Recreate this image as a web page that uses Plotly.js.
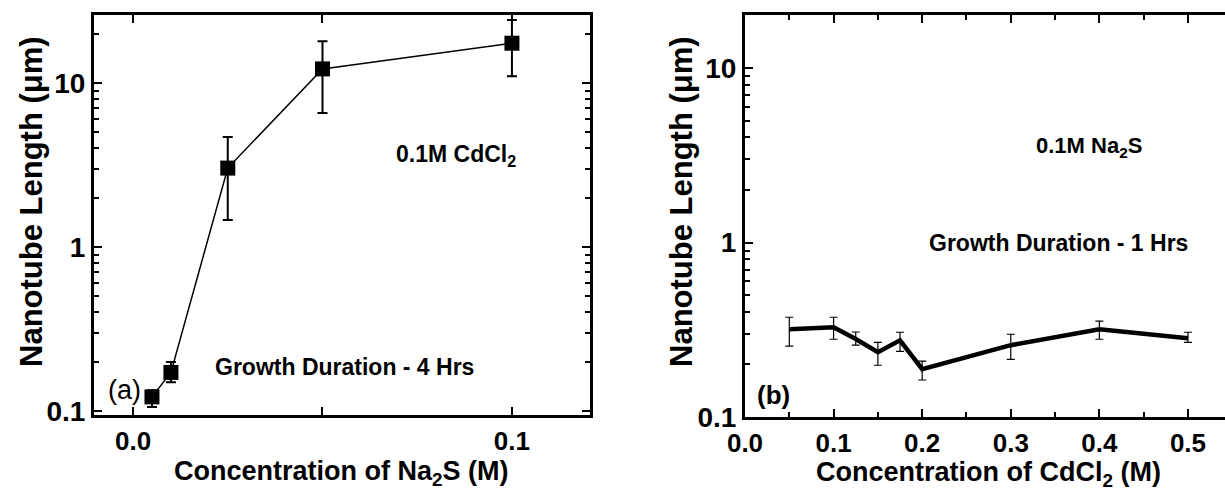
<!DOCTYPE html>
<html>
<head>
<meta charset="utf-8">
<script src="https://cdn.plot.ly/plotly-3.0.1.min.js"></script>
<style>html,body{margin:0;padding:0;background:#fff;}#chart{width:1225px;height:491px;}</style>
</head>
<body>
<div id="chart"></div>
<script>
// Panel (a): Na2S concentration series (0.1M CdCl2, 4 Hrs)
const naX = [0.005, 0.01, 0.025, 0.05, 0.1];
const naY = [0.122, 0.172, 3.03, 12.2, 17.5];
const naErrPlus = [0.012, 0.027, 1.66, 5.8, 6.7];
const naErrMinus = [0.016, 0.022, 1.57, 5.64, 6.5];

// Panel (b): CdCl2 concentration series (0.1M Na2S, 1 Hrs)
const cdX = [0.05, 0.1, 0.125, 0.15, 0.175, 0.2, 0.3, 0.4, 0.5];
const cdY = [0.318, 0.327, 0.28, 0.235, 0.275, 0.188, 0.258, 0.318, 0.283];
const cdErrPlus = [0.055, 0.046, 0.027, 0.033, 0.031, 0.021, 0.04, 0.036, 0.023];
const cdErrMinus = [0.063, 0.048, 0.022, 0.037, 0.037, 0.025, 0.044, 0.039, 0.015];

const leftXTicks = [0, 0.05, 0.1];
const leftXTickText = ['0.0', ' ', '0.1'];
const rightXTicks = [0, 0.1, 0.2, 0.3, 0.4, 0.5];
const rightXTickText = ['0.0', '0.1', '0.2', '0.3', '0.4', '0.5'];
const yTicks = [0.1, 1, 10];
const yTickText = ['0.1', '1', '10'];
const yMinor = [0.2,0.3,0.4,0.5,0.6,0.7,0.8,0.9,2,3,4,5,6,7,8,9,20];

const W = 1225, H = 491;
const px = v => v / W;
const py = v => 1 - v / H;
const FONT = 'Liberation Sans, Arial, sans-serif';

const traces = [
  {
    x: naX, y: naY, xaxis: 'x', yaxis: 'y', type: 'scatter', mode: 'lines+markers',
    line: {color: '#000', width: 1.5},
    marker: {symbol: 'square', size: 15, color: '#000'},
    error_y: {type: 'data', symmetric: false, array: naErrPlus, arrayminus: naErrMinus,
              color: '#000', thickness: 2, width: 5},
    showlegend: false
  },
  {
    x: cdX, y: cdY, xaxis: 'x2', yaxis: 'y2', type: 'scatter', mode: 'lines',
    line: {color: '#000', width: 4.5},
    error_y: {type: 'data', symmetric: false, array: cdErrPlus, arrayminus: cdErrMinus,
              color: '#000', thickness: 1.2, width: 4},
    showlegend: false
  }
];

const axCommon = {
  showgrid: false, zeroline: false, showline: true, linecolor: '#000', linewidth: 3,
  ticks: 'inside', tickcolor: '#000', tickwidth: 2, ticklen: 8,
  tickfont: {family: FONT, size: 27, color: '#000', weight: 'bold'}
};

const layout = {
  width: W, height: H,
  margin: {l: 0, r: 0, t: 0, b: 0},
  paper_bgcolor: '#fff', plot_bgcolor: '#fff',
  xaxis: Object.assign({}, axCommon, {
    domain: [px(94), px(590)], range: [-0.0103, 0.1206], anchor: 'y',
    tickmode: 'array', tickvals: leftXTicks, ticktext: leftXTickText, mirror: 'allticks',
    ticklabelstandoff: 1, tickfont: {family: FONT, size: 26, color: '#000', weight: 'bold'}
  }),
  yaxis: Object.assign({}, axCommon, {
    domain: [1 - 415/H, 1 - 15/H], type: 'log', range: [-1.024, 1.415], anchor: 'x',
    tickmode: 'array', tickvals: yTicks, ticktext: yTickText, mirror: 'allticks',
    tickfont: {family: FONT, size: 28, color: '#000', weight: 'bold'},
    minor: {tickmode: 'array', tickvals: yMinor, ticks: 'inside', ticklen: 5, tickwidth: 2, tickcolor: '#000'}
  }),
  xaxis2: Object.assign({}, axCommon, {
    domain: [px(745), 1], range: [0, 0.5418], anchor: 'y2',
    tickmode: 'array', tickvals: rightXTicks, ticktext: rightXTickText, mirror: 'allticks',
    ticklabelstandoff: 1, tickfont: {family: FONT, size: 26, color: '#000', weight: 'bold'},
    minor: {tickmode: 'array', tickvals: [0.05,0.15,0.25,0.35,0.45], ticks: 'inside', ticklen: 5, tickwidth: 2, tickcolor: '#000'}
  }),
  yaxis2: Object.assign({}, axCommon, {
    domain: [1 - 417/H, 1 - 15/H], type: 'log', range: [-1, 1.304], anchor: 'x2',
    tickmode: 'array', tickvals: yTicks, ticktext: yTickText, mirror: false,
    tickfont: {family: FONT, size: 28, color: '#000', weight: 'bold'},
    minor: {tickmode: 'array', tickvals: yMinor, ticks: 'inside', ticklen: 5, tickwidth: 2, tickcolor: '#000'}
  }),
  annotations: [
    {text: 'Nanotube Length (μm)', xref: 'paper', yref: 'paper', x: px(31), y: py(202),
     textangle: -90, showarrow: false, xanchor: 'center', yanchor: 'middle',
     font: {family: FONT, size: 31, color: '#000', weight: 'bold'}},
    {text: 'Concentration of Na<sub>2</sub>S (M)', xref: 'paper', yref: 'paper', x: px(341), y: py(473),
     showarrow: false, xanchor: 'center', yanchor: 'middle',
     font: {family: FONT, size: 27, color: '#000', weight: 'bold'}},
    {text: '0.1M CdCl<sub>2</sub>', xref: 'paper', yref: 'paper', x: px(456), y: py(155),
     showarrow: false, xanchor: 'center', yanchor: 'middle',
     font: {family: FONT, size: 23, color: '#000', weight: 'bold'}},
    {text: 'Growth Duration - 4 Hrs', xref: 'paper', yref: 'paper', x: px(344), y: py(367),
     showarrow: false, xanchor: 'center', yanchor: 'middle',
     font: {family: FONT, size: 23, color: '#000', weight: 'bold'}},
    {text: '(a)', xref: 'paper', yref: 'paper', x: px(124), y: py(390),
     showarrow: false, xanchor: 'center', yanchor: 'middle',
     font: {family: FONT, size: 27, color: '#000'}},

    {text: 'Nanotube Length (μm)', xref: 'paper', yref: 'paper', x: px(681), y: py(202),
     textangle: -90, showarrow: false, xanchor: 'center', yanchor: 'middle',
     font: {family: FONT, size: 31, color: '#000', weight: 'bold'}},
    {text: 'Concentration of CdCl<sub>2</sub> (M)', xref: 'paper', yref: 'paper', x: px(988), y: py(474),
     showarrow: false, xanchor: 'center', yanchor: 'middle',
     font: {family: FONT, size: 27, color: '#000', weight: 'bold'}},
    {text: '0.1M Na<sub>2</sub>S', xref: 'paper', yref: 'paper', x: px(1089), y: py(147),
     showarrow: false, xanchor: 'center', yanchor: 'middle',
     font: {family: FONT, size: 22, color: '#000', weight: 'bold'}},
    {text: 'Growth Duration - 1 Hrs', xref: 'paper', yref: 'paper', x: px(1058), y: py(243),
     showarrow: false, xanchor: 'center', yanchor: 'middle',
     font: {family: FONT, size: 23, color: '#000', weight: 'bold'}},
    {text: '(b)', xref: 'paper', yref: 'paper', x: px(773), y: py(395),
     showarrow: false, xanchor: 'center', yanchor: 'middle',
     font: {family: FONT, size: 26, color: '#000', weight: 'bold'}}
  ]
};

Plotly.newPlot('chart', traces, layout, {staticPlot: true, displayModeBar: false});
</script>
</body>
</html>
